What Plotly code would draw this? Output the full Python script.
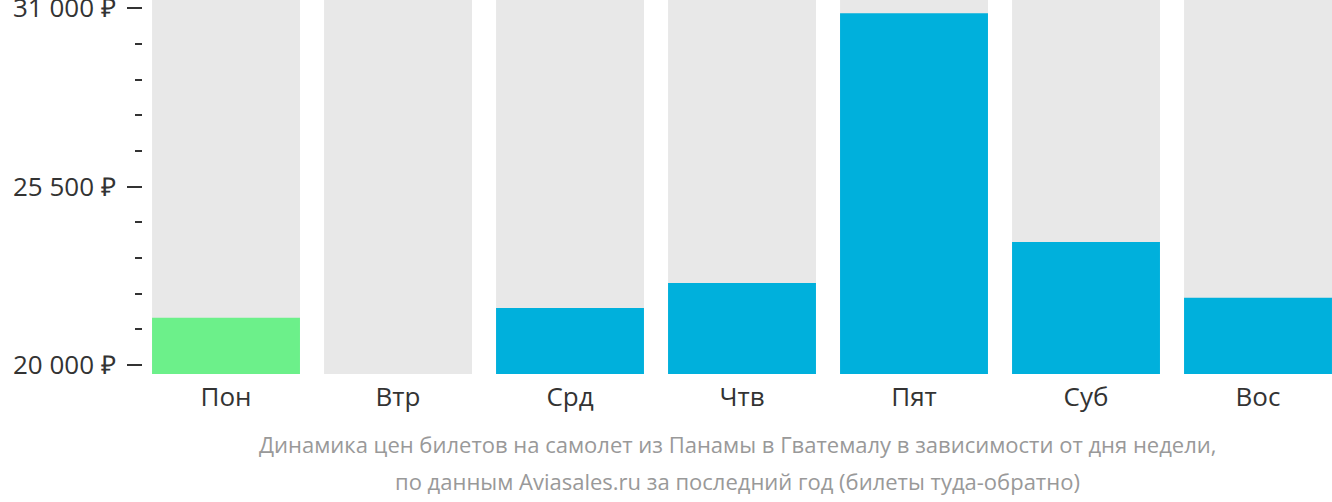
import plotly.graph_objects as go

days = ["Пон", "Втр", "Срд", "Чтв", "Пят", "Суб", "Вос"]
prices = [21460, None, 21760, 22530, 30850, 23790, 22070]
bar_colors = ["#6cf08a", "#00b0dc", "#00b0dc", "#00b0dc", "#00b0dc", "#00b0dc", "#00b0dc"]
y_tickvals = [20000, 25500, 31000]
y_ticktext = ["20 000 ₽", "25 500 ₽", "31 000 ₽"]
y_min, y_max = 19722, 31256
title_lines = ["Динамика цен билетов на самолет из Панамы в Гватемалу в зависимости от дня недели,",
               "по данным Aviasales.ru за последний год (билеты туда-обратно)"]

fig = go.Figure()
fig.add_trace(go.Bar(x=days, y=[y_max - y_min] * len(days), base=y_min,
                     marker=dict(color="#e8e8e8", line=dict(width=0)),
                     width=0.86, hoverinfo="skip", showlegend=False))
fig.add_trace(go.Bar(x=days, y=[None if p is None else p - y_min for p in prices], base=y_min,
                     marker=dict(color=bar_colors, line=dict(width=0)),
                     width=0.86, showlegend=False))

fig.update_layout(
    width=1332, height=502,
    margin=dict(l=143, r=0, t=0, b=128, autoexpand=False),
    barmode="overlay",
    plot_bgcolor="white", paper_bgcolor="white",
    font=dict(family="Open Sans", size=26, color="#333333"),
    xaxis=dict(range=[-0.4826, 6.4302], showgrid=False, zeroline=False, showline=False,
               ticks="", automargin=False, ticklabelstandoff=5,
               tickfont=dict(size=26, color="#333333")),
    yaxis=dict(range=[y_min, y_max], tickmode="array", tickvals=y_tickvals, ticktext=y_ticktext,
               showgrid=False, zeroline=False, showline=False, automargin=False,
               ticklabeloverflow="allow", ticklabelstandoff=6,
               ticks="outside", ticklen=15, tickwidth=2, tickcolor="#333333",
               tickfont=dict(size=26, color="#333333"),
               minor=dict(tick0=20000, dtick=1100, ticks="outside", ticklen=7, tickwidth=2,
                          tickcolor="#333333", showgrid=False)),
    annotations=[
        dict(text=title_lines[0], x=0.5, y=-0.186, xref="paper", yref="paper", xanchor="center",
             yanchor="middle", showarrow=False, font=dict(size=22, color="#999999")),
        dict(text=title_lines[1], x=0.5, y=-0.285, xref="paper", yref="paper", xanchor="center",
             yanchor="middle", showarrow=False, font=dict(size=22, color="#999999")),
    ],
)
fig.write_html("out.html", config={"displayModeBar": False},
               post_script="document.body.style.margin='0';document.body.style.overflow='hidden';")
